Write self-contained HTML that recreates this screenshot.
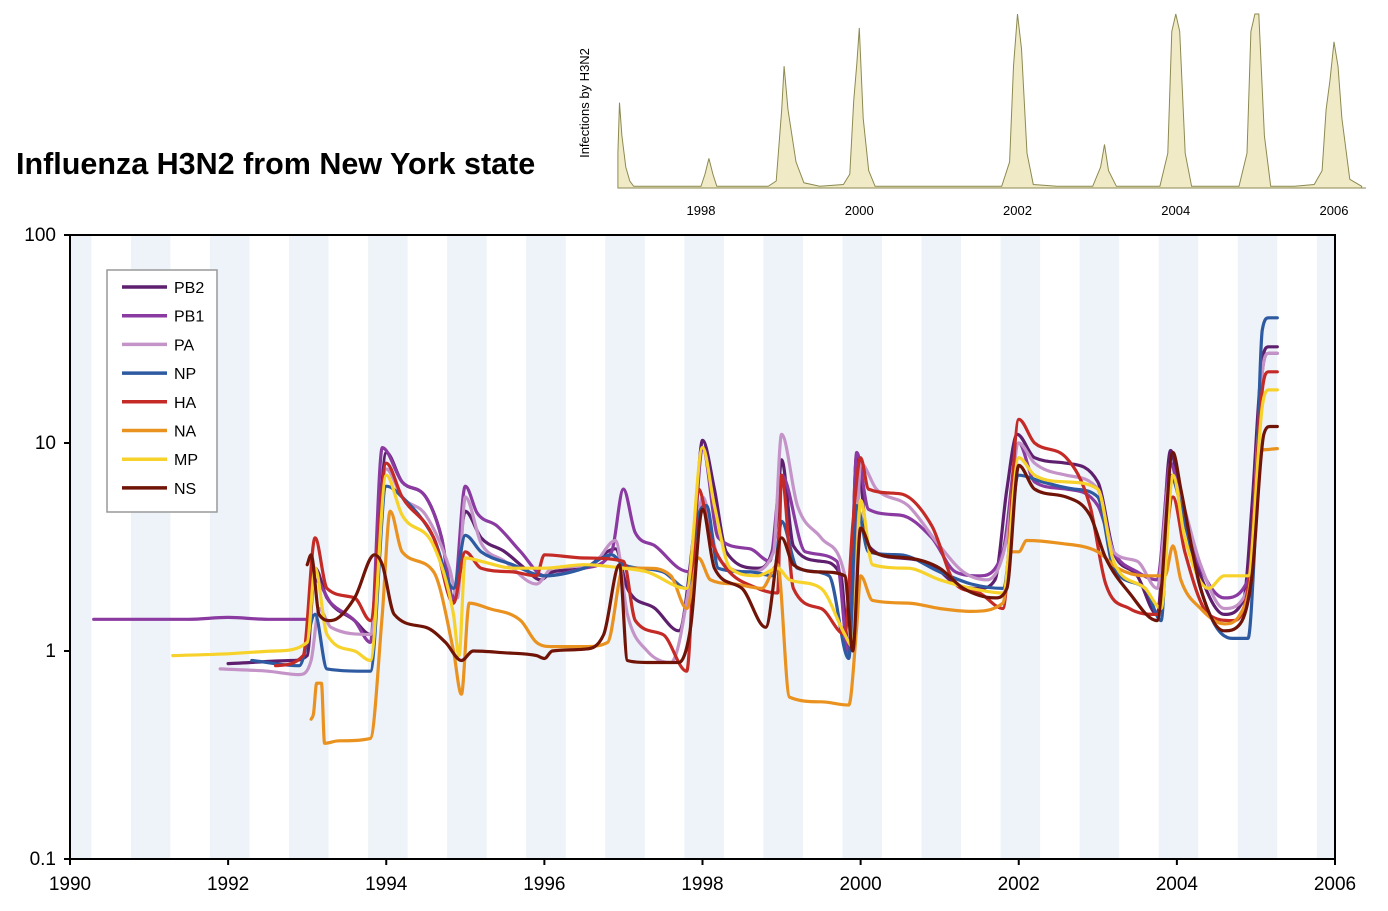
<!DOCTYPE html>
<html><head><meta charset="utf-8"><style>
body{margin:0;background:#fff;width:1388px;height:911px;overflow:hidden}
svg{display:block;font-family:"Liberation Sans",sans-serif}
</style></head><body>
<svg id="c" width="1388" height="911" xmlns="http://www.w3.org/2000/svg">
<text x="16" y="174" font-size="30.5" font-weight="bold" fill="#000">Influenza H3N2 from New York state</text>
<g id="inset"></g>
<g id="main"></g>
</svg>
<script>
const years=[1990,1992,1994,1996,1998,2000,2002,2004,2006];
const yTicks=[0.1,1,10,100];
const yTickLabels=["0.1","1","10","100"];
const seriesNames=["PB2","PB1","PA","NP","HA","NA","MP","NS"];
const seriesColors=["#5e1f6e","#8a3aa0","#c494c8","#2d5aa0","#c42a26","#ea921f","#f6d22a","#701408"];
const PB2=[[1992,0.87],[1992.8,0.9],[1993,0.95],[1993.1,2.5],[1993.25,1.8],[1993.6,1.4],[1993.8,1.2],[1994,9],[1994.2,6.5],[1994.5,5.5],[1994.7,3.5],[1994.85,1.7],[1995,4.7],[1995.2,3.5],[1995.5,3],[1995.75,2.5],[1995.95,2.2],[1996.1,2.4],[1996.5,2.5],[1996.9,3.1],[1997.05,2],[1997.4,1.6],[1997.7,1.25],[1997.9,4],[1998,10.3],[1998.15,6],[1998.3,3],[1998.7,2.5],[1998.92,3.5],[1999,8.3],[1999.15,3.2],[1999.5,2.7],[1999.75,2.3],[1999.85,1],[1999.95,8.8],[2000.1,3.2],[2000.5,2.8],[2000.9,2.6],[2001.2,2.1],[2001.5,2],[2001.7,2.2],[2001.85,6],[2001.98,11],[2002.2,8.5],[2002.6,8],[2003,6.5],[2003.2,3],[2003.5,2.3],[2003.75,1.5],[2003.92,9.2],[2004.05,5],[2004.3,2.3],[2004.6,1.5],[2004.85,1.8],[2004.95,5],[2005.08,25],[2005.16,29],[2005.27,29]];
const PB1=[[1990.3,1.42],[1991.5,1.42],[1992,1.45],[1992.5,1.42],[1993,1.42],[1993.1,2.2],[1993.3,1.7],[1993.6,1.4],[1993.8,1.1],[1993.95,9.5],[1994.2,6.5],[1994.5,5.5],[1994.7,3.5],[1994.85,1.8],[1995,6.2],[1995.15,4.6],[1995.4,4],[1995.7,3],[1996,2.3],[1996.5,2.5],[1996.85,3],[1997,6],[1997.15,3.7],[1997.4,3.2],[1997.7,2.5],[1997.85,2.4],[1998,9.5],[1998.2,3.5],[1998.6,3.1],[1998.85,2.7],[1999,7],[1999.3,3],[1999.7,2.7],[1999.85,0.95],[1999.95,9],[2000.1,4.8],[2000.5,4.5],[2000.9,3.5],[2001.2,2.4],[2001.5,2.3],[2001.8,3],[2002,10],[2002.2,6.5],[2002.6,6],[2003,5],[2003.2,3],[2003.5,2.4],[2003.75,2.2],[2003.92,8],[2004.05,5],[2004.3,2.5],[2004.6,1.8],[2004.9,2.2],[2005.08,22],[2005.16,27],[2005.27,27]];
const PA=[[1991.9,0.82],[1992.5,0.8],[1992.9,0.77],[1993.05,0.9],[1993.15,1.6],[1993.3,1.3],[1993.8,1.2],[1994,7.5],[1994.2,5.5],[1994.5,4.5],[1994.8,2.5],[1994.9,1.8],[1995,5.5],[1995.2,3.3],[1995.5,2.7],[1995.9,2.1],[1996.1,2.5],[1996.6,2.6],[1996.9,3.4],[1997.05,1.5],[1997.3,1],[1997.6,0.88],[1997.9,3],[1998,5.5],[1998.2,2.8],[1998.6,2.4],[1998.9,3],[1999,11],[1999.2,5],[1999.5,3.5],[1999.8,2.3],[1999.9,1.1],[2000,8],[2000.2,6],[2000.6,5],[2001,3.2],[2001.3,2.4],[2001.6,2.2],[2001.85,3.5],[2002,10],[2002.2,8],[2002.6,7],[2003,6],[2003.2,3],[2003.5,2.7],[2003.75,2],[2003.92,7],[2004.05,5.5],[2004.3,2.6],[2004.6,1.6],[2004.9,2],[2005.08,22],[2005.16,27],[2005.27,27]];
const NP=[[1992.3,0.9],[1992.9,0.85],[1993.1,1.5],[1993.25,0.82],[1993.8,0.8],[1994,6.2],[1994.2,5.5],[1994.6,3.5],[1994.85,2],[1995,3.6],[1995.2,3],[1995.6,2.6],[1996,2.3],[1996.5,2.5],[1996.85,2.9],[1997,2.6],[1997.5,2.4],[1997.8,2],[1997.95,4.5],[1998.05,5],[1998.2,2.5],[1998.6,2.4],[1998.9,2.3],[1999,4.2],[1999.2,2.5],[1999.6,2.3],[1999.85,0.92],[1999.95,5],[2000.1,3],[2000.5,2.9],[2001,2.4],[2001.4,2.1],[2001.8,2],[2002,7],[2002.3,6.5],[2002.7,6],[2003,5.5],[2003.2,2.5],[2003.6,2],[2003.8,1.4],[2003.92,7],[2004.05,5],[2004.3,2],[2004.5,1.3],[2004.7,1.15],[2004.9,1.15],[2004.98,3],[2005.08,35],[2005.16,40],[2005.27,40]];
const HA=[[1992.6,0.85],[1992.95,0.95],[1993.1,3.5],[1993.25,2],[1993.6,1.8],[1993.8,1.4],[1994,8],[1994.2,5.5],[1994.6,3.5],[1994.85,1.7],[1995,3],[1995.2,2.5],[1995.6,2.4],[1995.9,2.3],[1996,2.9],[1996.5,2.8],[1997,2.7],[1997.15,1.4],[1997.5,1.2],[1997.8,0.8],[1997.95,6],[1998.1,3.5],[1998.3,2.5],[1998.7,2],[1998.95,1.9],[1999,7],[1999.15,2],[1999.5,1.6],[1999.8,1.2],[1999.9,4],[2000,8.5],[2000.1,6],[2000.5,5.7],[2000.9,4],[2001.2,2.1],[2001.5,1.9],[2001.8,1.6],[2002,13],[2002.2,10],[2002.6,8.5],[2002.9,5],[2003.1,2.1],[2003.4,1.6],[2003.75,1.5],[2003.95,5.5],[2004.1,3],[2004.4,1.5],[2004.7,1.4],[2004.9,2],[2005.08,18],[2005.16,22],[2005.27,22]];
const NA=[[1993.05,0.47],[1993.08,0.5],[1993.12,0.7],[1993.18,0.7],[1993.22,0.36],[1993.4,0.37],[1993.8,0.38],[1993.95,1.5],[1994.05,4.7],[1994.2,3],[1994.6,2.4],[1994.85,1],[1994.95,0.62],[1995.05,1.7],[1995.3,1.6],[1995.7,1.4],[1995.9,1.1],[1996.1,1.05],[1996.5,1.05],[1996.8,1.1],[1997,2.5],[1997.3,2.5],[1997.6,2.3],[1997.8,1.6],[1997.95,2.8],[1998.1,2.2],[1998.4,2.1],[1998.75,2],[1998.95,2.6],[1999.1,0.6],[1999.5,0.57],[1999.85,0.55],[1999.95,1.3],[2000,2.3],[2000.15,1.75],[2000.6,1.7],[2001,1.6],[2001.4,1.55],[2001.8,1.7],[2001.9,3],[2002,3],[2002.1,3.4],[2002.5,3.3],[2003,3],[2003.25,2.5],[2003.6,2.3],[2003.85,2.3],[2003.95,3.2],[2004.05,2.2],[2004.3,1.6],[2004.6,1.35],[2004.8,1.5],[2004.95,2.5],[2005.05,9],[2005.13,9.3],[2005.27,9.4]];
const MP=[[1991.3,0.95],[1992,0.97],[1992.6,1],[1993,1.1],[1993.1,2.5],[1993.25,1.2],[1993.6,1],[1993.8,0.9],[1994,7],[1994.2,4.5],[1994.6,3.2],[1994.85,1.5],[1994.92,0.95],[1995,2.8],[1995.2,2.7],[1995.6,2.5],[1996,2.5],[1996.5,2.6],[1997,2.5],[1997.3,2.4],[1997.8,2],[1998,9.5],[1998.15,5],[1998.35,2.5],[1998.7,2.3],[1998.95,2.5],[1999.1,2.2],[1999.5,2],[1999.8,1.2],[1999.9,1.05],[2000,5.3],[2000.15,2.6],[2000.6,2.5],[2001,2.2],[2001.4,2],[2001.8,1.9],[2002,8.5],[2002.2,7],[2002.6,6.5],[2003,6],[2003.2,2.7],[2003.6,2],[2003.8,1.6],[2003.95,7],[2004.1,3.5],[2004.4,2],[2004.6,2.3],[2004.9,2.3],[2005.08,15],[2005.16,18],[2005.27,18]];
const NS=[[1993,2.6],[1993.05,2.9],[1993.15,1.5],[1993.3,1.4],[1993.6,1.8],[1993.85,2.9],[1993.95,2.6],[1994.1,1.5],[1994.5,1.3],[1994.75,1.1],[1994.95,0.9],[1995.1,1],[1995.5,0.98],[1995.9,0.95],[1996,0.92],[1996.1,1],[1996.5,1.02],[1996.75,1.2],[1996.95,2.6],[1997.05,0.9],[1997.3,0.88],[1997.7,0.88],[1997.85,1.3],[1998,4.8],[1998.15,2.5],[1998.5,2],[1998.8,1.3],[1999,3.5],[1999.15,2.6],[1999.5,2.4],[1999.8,2.3],[1999.9,1],[2000,3.9],[2000.15,3],[2000.6,2.8],[2001,2.5],[2001.3,2],[2001.7,1.8],[2001.85,2],[2002,7.8],[2002.2,6],[2002.6,5.5],[2002.9,4.5],[2003.1,2.8],[2003.4,1.9],[2003.75,1.4],[2003.95,9],[2004.05,6],[2004.3,2],[2004.6,1.25],[2004.8,1.35],[2004.95,2.3],[2005.1,11],[2005.18,12],[2005.27,12]];
const seriesData=[PB2,PB1,PA,NP,HA,NA,MP,NS];
// inset: weekly infections (relative)
const insetYears=[1996.95,1996.97,1997.0,1997.05,1997.1,1997.15,1997.5,1998.0,1998.05,1998.1,1998.15,1998.2,1998.5,1998.85,1998.95,1999.02,1999.05,1999.1,1999.2,1999.3,1999.5,1999.8,1999.88,1999.93,1999.97,2000.0,2000.05,2000.12,2000.2,2000.5,2001.0,2001.5,2001.8,2001.9,2001.95,2002.0,2002.05,2002.12,2002.2,2002.5,2002.95,2003.05,2003.1,2003.15,2003.25,2003.5,2003.8,2003.9,2003.95,2004.0,2004.05,2004.12,2004.2,2004.5,2004.8,2004.9,2004.95,2005.0,2005.05,2005.12,2005.2,2005.5,2005.75,2005.85,2005.9,2005.95,2006.0,2006.05,2006.1,2006.2,2006.35];
const insetValues=[20,49,30,12,4,1,1,1,8,17,8,1,1,1,4,45,70,45,15,3,1,2,8,50,72,92,40,10,1,1,1,1,1,15,70,130,80,20,2,1,1,12,25,10,1,1,1,20,90,130,90,20,1,1,1,20,90,130,100,30,1,1,2,10,45,62,84,70,40,5,1];
const insetTicks=[1998,2000,2002,2004,2006];

const NS_="http://www.w3.org/2000/svg";
function mk(parent,tag,attrs){const e=document.createElementNS(NS_,tag);for(const k in attrs)e.setAttribute(k,attrs[k]);parent.appendChild(e);return e;}
function smoothPath(P){
  const n=P.length;if(n<2)return '';
  const d=[],m=[];
  for(let i=0;i<n-1;i++)d.push((P[i+1][1]-P[i][1])/(P[i+1][0]-P[i][0]));
  m[0]=d[0];m[n-1]=d[n-2];
  for(let i=1;i<n-1;i++)m[i]=(d[i-1]*d[i]<=0)?0:(d[i-1]+d[i])/2;
  for(let i=0;i<n-1;i++){if(d[i]===0){m[i]=0;m[i+1]=0;continue;}const a=m[i]/d[i],b=m[i+1]/d[i],s=a*a+b*b;if(s>9){const t=3/Math.sqrt(s);m[i]=t*a*d[i];m[i+1]=t*b*d[i];}}
  let s='M'+P[0][0].toFixed(1)+','+P[0][1].toFixed(1);
  for(let i=0;i<n-1;i++){const h=(P[i+1][0]-P[i][0])/3;
    s+='C'+(P[i][0]+h).toFixed(1)+','+(P[i][1]+m[i]*h).toFixed(1)+' '+(P[i+1][0]-h).toFixed(1)+','+(P[i+1][1]-m[i+1]*h).toFixed(1)+' '+P[i+1][0].toFixed(1)+','+P[i+1][1].toFixed(1);}
  return s;
}
const X0=70,X1=1335,Y0=859,Y1=235;
const xs=y=>X0+(y-1990)/16*(X1-X0);
const ys=v=>Y0-(Math.log10(v)+1)/3*(Y0-Y1);
const main=document.getElementById('main');
for(let yr=1989;yr<2006;yr++){
  const a=Math.max(xs(yr+0.77),X0),b=Math.min(xs(yr+1.27),X1);
  if(b<=a)continue;
  const r=mk(main,'rect',{x:a,y:Y1,width:b-a,height:Y0-Y1,fill:'#edf3f8'});
  
  
}
seriesData.forEach((d,i)=>{
  const p=mk(main,'path',{d:smoothPath(d.map(pt=>[xs(pt[0]),ys(pt[1])])),fill:'none',stroke:seriesColors[i],'stroke-width':3.2,'stroke-linejoin':'round','stroke-linecap':'round'});
  
  
});
const fr=mk(main,'rect',{x:X0,y:Y1,width:X1-X0,height:Y0-Y1,fill:'none',stroke:'#000','stroke-width':2});


yTicks.forEach((v,i)=>{
  mk(main,'line',{x1:X0-6,x2:X0,y1:ys(v),y2:ys(v),stroke:'#000','stroke-width':2});
  const t=mk(main,'text',{x:X0-14,y:ys(v)+6,'text-anchor':'end','font-size':19,fill:'#000'});
  t.textContent=yTickLabels[i];
  
  
});
years.forEach(yr=>{
  mk(main,'line',{x1:xs(yr),x2:xs(yr),y1:Y0,y2:Y0+6,stroke:'#000','stroke-width':2});
  const t=mk(main,'text',{x:xs(yr),y:Y0+31,'text-anchor':'middle','font-size':19,fill:'#000'});
  t.textContent=yr;
  
  
});
const lg=mk(main,'g',{});


mk(lg,'rect',{x:107,y:270,width:110,height:242,fill:'#fff',stroke:'#999','stroke-width':1.5});
seriesNames.forEach((n,i)=>{
  const y=287+i*28.7;
  const g=mk(lg,'g',{});
  
  
  mk(g,'line',{x1:122,x2:167,y1:y,y2:y,stroke:seriesColors[i],'stroke-width':3.5});
  const t=mk(g,'text',{x:174,y:y+6,'font-size':16,fill:'#000'});
  t.textContent=n;
});
const ins=document.getElementById('inset');
const IX=y=>701+(y-1998)*(1334-701)/8, IB=188, IT=14;
const iy=v=>Math.max(IT,IB-v/100*(IB-IT));
let dpath='M'+IX(insetYears[0])+','+IB;
insetYears.forEach((yr,i)=>{dpath+='L'+IX(yr).toFixed(1)+','+iy(insetValues[i]).toFixed(1);});
dpath+='L'+IX(insetYears[insetYears.length-1])+','+IB+'Z';
const ar=mk(ins,'path',{d:dpath,fill:'#f0ebc6',stroke:'#8c8a50','stroke-width':1});


mk(ins,'line',{x1:620,x2:1366,y1:IB,y2:IB,stroke:'#8c8a50','stroke-width':1});
insetTicks.forEach(yr=>{
  const t=mk(ins,'text',{x:IX(yr),y:215,'text-anchor':'middle','font-size':13,fill:'#000'});
  t.textContent=yr;
  
  
});
const yl=mk(ins,'text',{x:0,y:0,transform:'translate(589,103) rotate(-90)','text-anchor':'middle','font-size':13,fill:'#000'});
yl.textContent='Infections by H3N2';


</script>
</body></html>
